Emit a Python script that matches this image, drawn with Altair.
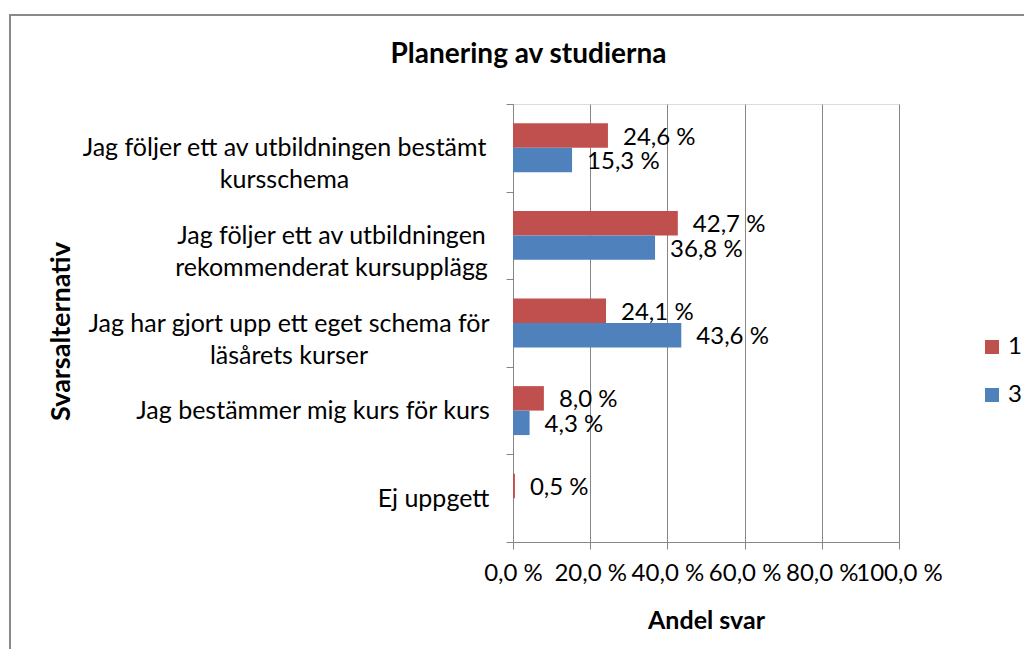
import json
import altair as alt
import pandas as pd

categories = [
    "Jag följer ett av utbildningen bestämt\nkursschema",
    "Jag följer ett av utbildningen\nrekommenderat kursupplägg",
    "Jag har gjort upp ett eget schema för\nläsårets kurser",
    "Jag bestämmer mig kurs för kurs",
    "Ej uppgett",
]
series_names = ["1", "3"]
values_1 = [24.6, 42.7, 24.1, 8.0, 0.5]
values_3 = [15.3, 36.8, 43.6, 4.3, 0.0]
x_ticks = [0, 20, 40, 60, 80, 100]
colors = ["#C0504D", "#4F81BD"]
chart_title = "Planering av studierna"

rows = []
for c, v1, v3 in zip(categories, values_1, values_3):
    rows.append({"cat": c, "serie": "1", "value": v1})
    rows.append({"cat": c, "serie": "3", "value": v3})
df = pd.DataFrame(rows)

FONT = "Lato"
GRID = "#868686"

# per-label padding so each (centered) label block is right aligned
label_pad = [222, 175, 217.5, 193.5, 73]
pad_cond = {
    "condition": [
        {"test": "datum.value === " + json.dumps(c), "value": p}
        for c, p in zip(categories, label_pad)
    ],
    "value": 100,
}

y_enc = alt.Y(
    "cat:N",
    sort=categories,
    scale=alt.Scale(domain=categories, paddingInner=0, paddingOuter=0),
    axis=alt.Axis(
        title="Svarsalternativ",
        titleFont=FONT,
        titleFontSize=27,
        titleFontWeight="bold",
        titleColor="black",
        titleX=-452,
        titleY=227,
        titleAlign="center",
        titleBaseline="middle",
        titleAngle=270,
        labelExpr="split(datum.label, '\\n')",
        labelFont=FONT,
        labelFontSize=25,
        labelColor="black",
        labelLineHeight=32,
        labelAlign="center",
        labelBaseline="middle",
        labelPadding=pad_cond,
        labelLimit=0,
        tickBand="extent",
        tickSize=7,
        tickColor=GRID,
        domainColor=GRID,
        domainWidth=1,
        grid=False,
    ),
)

base = alt.Chart(df)

bars = base.mark_bar().encode(
    x=alt.X(
        "value:Q",
        scale=alt.Scale(domain=[0, 100]),
        axis=alt.Axis(
            values=x_ticks,
            title="Andel svar",
            titleFont=FONT,
            titleFontSize=25,
            titleFontWeight="bold",
            titleColor="black",
            titlePadding=23,
            labelExpr="replace(format(datum.value, '.1f'), '.', ',') + ' %'",
            labelFont=FONT,
            labelFontSize=24,
            labelColor="black",
            labelPadding=12,
            labelOverlap=False,
            labelFlush=False,
            grid=True,
            gridColor=GRID,
            gridWidth=1,
            tickColor=GRID,
            tickSize=7,
            domainColor=GRID,
        ),
    ),
    y=y_enc,
    yOffset=alt.YOffset(
        "serie:N",
        sort=series_names,
        scale=alt.Scale(domain=series_names, paddingInner=0, paddingOuter=0.79),
    ),
    color=alt.Color(
        "serie:N",
        scale=alt.Scale(domain=series_names, range=colors),
        legend=alt.Legend(
            title=None,
            orient="none",
            legendX=467,
            legendY=231,
            symbolType="square",
            symbolSize=196,
            symbolStrokeWidth=0,
            labelFont=FONT,
            labelFontSize=24,
            labelColor="black",
            labelOffset=4,
            rowPadding=24,
            padding=0,
        ),
    ),
)

labels = base.transform_filter("datum.value > 0").transform_calculate(
    txt="replace(format(datum.value, '.1f'), '.', ',') + ' %'"
).mark_text(
    align="left", baseline="middle", dx=15, dy=2, font=FONT, fontSize=24, color="black"
).encode(
    x=alt.X("value:Q"),
    y=alt.Y("cat:N", sort=categories),
    yOffset=alt.YOffset("serie:N", sort=series_names),
    text="txt:N",
)

border = alt.Chart(pd.DataFrame({"k": [0]})).mark_rect(
    fill=None, stroke="#898989", strokeWidth=2
).encode(
    x=alt.value(-503), x2=alt.value(600), y=alt.value(-89), y2=alt.value(700)
)

title = alt.Chart(pd.DataFrame({"t": [chart_title]})).mark_text(
    font=FONT, fontSize=28, fontWeight="bold", color="black",
    align="center", baseline="alphabetic"
).encode(
    text="t:N", x=alt.value(15.5), y=alt.value(-41)
)

chart = alt.layer(border, title, bars, labels).properties(
    width=386,
    height=438,
    padding={"left": 505, "top": 96, "right": 125, "bottom": 107},
    autosize=alt.AutoSizeParams(type="none"),
).configure_view(stroke=None).configure(background="white")

chart.save("out.html", embed_options={"renderer": "svg", "actions": False})
